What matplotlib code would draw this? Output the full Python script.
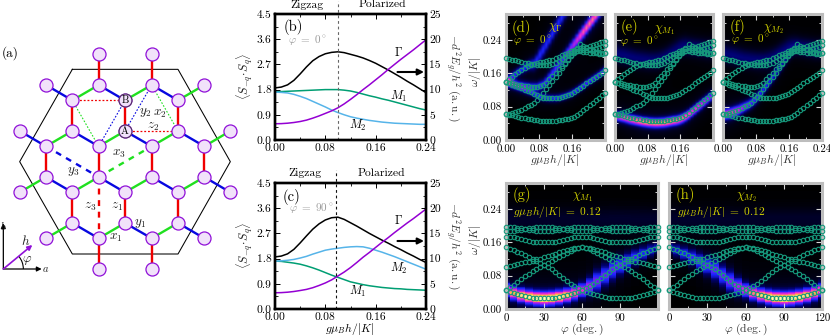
import numpy as np
import matplotlib
matplotlib.use("Agg")
import matplotlib.pyplot as plt
from matplotlib.colors import LinearSegmentedColormap
from matplotlib.patches import Arc

plt.rcParams.update({"font.family": "cmr10", "mathtext.fontset": "cm",
                     "axes.unicode_minus": False, "axes.formatter.use_mathtext": True})
W, H = 830, 336
FS = 8.3
FSH = 7.8

# ---------------- panel (a): lattice, in zoomed reference coordinates -------------
sites = {73: [296, 455], 165: [138, 296, 455, 613], 211: [217, 375, 534],
         303: [59, 217, 375, 534, 691], 349: [138, 296, 455, 613],
         441: [138, 296, 455, 613], 487: [59, 217, 375, 534, 691],
         579: [217, 375, 534], 625: [138, 296, 455, 613], 717: [296, 455]}
z_bonds = [(296,73,296,165),(455,73,455,165),(217,211,217,303),(375,211,375,303),(534,211,534,303),
           (138,349,138,441),(296,349,296,441),(455,349,455,441),(613,349,613,441),
           (217,487,217,579),(375,487,375,579),(534,487,534,579),(296,625,296,717),(455,625,455,717)]
x_bonds = [(217,211,296,165),(375,211,455,165),(534,211,613,165),(138,349,217,303),(296,349,375,303),
           (455,349,534,303),(613,349,691,303),(59,487,138,441),(217,487,296,441),(375,487,455,441),
           (534,487,613,441),(138,625,217,579),(296,625,375,579),(455,625,534,579)]
y_bonds = [(138,165,217,211),(296,165,375,211),(455,165,534,211),(59,303,138,349),(217,303,296,349),
           (375,303,455,349),(534,303,613,349),(138,441,217,487),(296,441,375,487),(455,441,534,487),
           (613,441,691,487),(217,579,296,625),(375,579,455,625),(534,579,613,625)]
hexagon = [(217,118),(534,118),(691,395),(534,672),(217,672),(59,395),(217,118)]

# ---------------- panels (b),(c): structure factors -------------
h_b = [0,.01,.02,.03,.04,.05,.06,.07,.08,.09,.10,.11,.12,.13,.14,.15,.16,.17,.18,.19,.20,.21,.22,.23,.24]
gamma_b = [1.86,1.89,1.97,2.13,2.36,2.61,2.83,2.98,3.08,3.13,3.15,3.12,3.06,3.00,2.93,2.84,2.74,2.62,2.50,2.37,2.24,2.10,1.97,1.83,1.69]
m1_b = [1.72,1.73,1.74,1.75,1.76,1.77,1.78,1.79,1.80,1.80,1.80,1.78,1.75,1.70,1.64,1.58,1.53,1.47,1.42,1.36,1.30,1.24,1.18,1.12,1.07]
m2_b = [1.71,1.70,1.68,1.63,1.56,1.48,1.38,1.28,1.18,1.07,0.98,0.90,0.83,0.78,0.74,0.70,0.67,0.64,0.62,0.60,0.59,0.58,0.57,0.56,0.56]
purple_b = [.58,.585,.60,.625,.66,.71,.78,.86,.95,1.04,1.15,1.29,1.45,1.62,1.80,1.97,2.15,2.33,2.52,2.70,2.88,3.05,3.22,3.40,3.58]
gamma_c = [1.86,1.89,1.97,2.13,2.36,2.61,2.85,3.04,3.18,3.26,3.28,3.20,3.08,2.96,2.83,2.70,2.58,2.46,2.35,2.23,2.12,2.00,1.89,1.77,1.66]
m2_c = [1.71,1.72,1.74,1.77,1.82,1.88,1.96,2.03,2.10,2.14,2.17,2.20,2.22,2.23,2.22,2.17,2.10,2.03,1.95,1.87,1.78,1.69,1.60,1.51,1.42]
m1_c = [1.71,1.70,1.67,1.64,1.60,1.54,1.47,1.39,1.30,1.21,1.13,1.05,.97,.92,.87,.83,.80,.77,.75,.73,.72,.70,.69,.68,.67]
purple_c = [.58,.585,.60,.625,.66,.70,.76,.84,.93,1.04,1.18,1.32,1.48,1.66,1.85,2.02,2.20,2.38,2.55,2.73,2.90,3.07,3.23,3.40,3.57]
tick_b = [0, .08, .16, .24]
transition_b, transition_c = 0.10, 0.0965

# ---------------- panels (d),(e),(f): modes vs field at phi=0 -------------
field = [0.0075*i for i in range(33)]
band_a = [.0624,.061,.0595,.058,.056,.054,.0525,.051,.0495,.048,.047,.046,.0455,.045,.045,.0455,.046,.047,.0485,.05,.051,.053,.056,.06,.065,.071,.077,.083,.089,.095,.101,.107,.112]
band_b = [.0624,.0635,.065,.067,.07,.073,.077,.081,.085,.09,.096,.103,.112,.122,.132,.142,.152,.162,.172,.182,.192,.202,.211,.22,.23,.226,.222,.218,.214,.212,.21,.209,.208]
band_c = [.14,.138,.136,.134,.132,.131,.13,.129,.128,.128,.128,.13,.133,.138,.146,.154,.162,.17,.178,.186,.195,.204,.21,.214,.216,.216,.216,.216,.217,.219,.221,.224,.227]
band_d = [.14,.146,.152,.158,.164,.169,.174,.178,.181,.183,.185,.187,.188,.189,.191,.193,.196,.199,.203,.207,.21,.213,.216,.218,.22,.222,.224,.226,.228,.23,.232,.235,.237]
band_e = [.14,.136,.133,.13,.127,.124,.121,.118,.115,.111,.107,.104,.102,.101,.1,.1,.1,.101,.103,.105,.108,.111,.115,.12,.125,.13,.136,.141,.146,.151,.156,.162,.168]
band_f = [.196,.195,.193,.192,.19,.188,.186,.184,.183,.182,.181,.18,.18,.18,.181,.183,.186,.19,.195,.2,.205,.21,.213,.214,.213,.212,.211,.21,.209,.208,.207,.207,.208]
ridge_d1 = [.14,.138,.136,.134,.132,.131,.13,.129,.128,.128,.128,.13,.133,.14,.15,.16,.17,.18,.19,.2,.21,.22,.23,.24,.25,.26,.27,.28,.29,.30,.31,.32,.33]
ridge_d2 = [.14,.146,.152,.158,.164,.169,.174,.178,.181,.183,.192,.205,.217,.23,.243,.256,.269,.282,.295,.308,.32,.33,.34,.35,.36,.37,.38,.39,.40,.41,.42,.43,.44]
s_d1 = [.007,.007,.007,.007,.007,.007,.007,.007,.007,.007,.007,.008,.008,.009,.009,.009,.010,.010,.010,.010,.010,.010,.010,.010,.010,.010,.010,.010,.010,.010,.010,.010,.010]
s_d2 = [.007,.007,.007,.007,.007,.007,.008,.008,.009,.010,.011,.012,.012,.012,.012,.012,.012,.012,.012,.012,.012,.012,.012,.012,.012,.012,.012,.012,.012,.012,.012,.012,.012]
w_d1 = [.34,.34,.34,.34,.34,.34,.34,.34,.34,.34,.34,.36,.38,.38,.38,.38,.40,.40,.42,.44,.46,.52,.58,.64,.70,.74,.76,.78,.78,.78,.78,.78,.78]
w_d2 = [.34]*33
w_d3 = [.34,.34,.34,.34,.34,.34,.34,.34,.34,.34,.34,.34,.34,.34,.34,.34,.34,.34,.34,.34,.34,.36,.36,.36,.36,.38,.38,.38,.40,.40,.40,.40,.40]
w_e1 = [.62,.66,.70,.74,.76,.78,.80,.82,.83,.84,.85,.86,.86,.86,.86,.86,.86,.85,.84,.83,.82,.80,.78,.76,.74,.72,.70,.68,.64,.60,.56,.52,.48]
w_f1 = [.72,.73,.74,.72,.68,.62,.56,.50,.46,.42,.40,.38,.36,.35,.34,.33,.32,.30,.28,.25,.20,.15,.10,.06,.04,.02,.02,.02,.02,.02,.02,.02,.02]
w_faint = [.17]*33

# ---------------- panels (g),(h): modes vs angle at g mu_B h/|K| = 0.12 -------------
angle = [3*i for i in range(41)]
curve_1 = [.0456,.042,.0385,.0355,.033,.031,.029,.0275,.0265,.026,.0256,.026,.0265,.0275,.029,.031,.033,.0355,.0385,.042,.0456,
           .050,.055,.061,.067,.074,.081,.088,.095,.100,.105,.110,.115,.120,.125,.129,.134,.138,.142,.145,.148]
curve_2 = curve_1[::-1]
curve_3 = [.0456,.052,.058,.065,.072,.079,.085,.091,.097,.101,.105,.110,.115,.12,.125,.130,.135,.139,.143,.146,.148,
           .146,.143,.139,.135,.130,.125,.12,.115,.110,.105,.101,.097,.091,.085,.079,.072,.065,.058,.052,.0456]
curve_4 = [.102,.104,.106,.108,.110,.112,.114,.116,.119,.121,.124,.127,.13,.133,.136,.139,.142,.144,.146,.147,.148,
           .147,.146,.144,.142,.139,.136,.133,.130,.127,.124,.121,.119,.116,.114,.112,.110,.108,.106,.104,.102]
curve_5 = [.174,.1735,.172,.170,.1675,.165,.163,.1615,.1605,.160,.160,.160,.1605,.1615,.163,.165,.1675,.170,.172,.1735,.174,
           .1735,.172,.170,.1675,.165,.163,.1615,.1605,.160,.160,.160,.1605,.1615,.163,.165,.1675,.170,.172,.1735,.174]
curve_6 = [.197,.1965,.196,.195,.1935,.192,.190,.189,.188,.1875,.187,.1875,.188,.189,.190,.192,.1935,.195,.196,.1965,.197,
           .1965,.196,.195,.1935,.192,.190,.189,.188,.1875,.187,.1875,.188,.189,.190,.192,.1935,.195,.196,.1965,.197]
curve_7 = [.187,.1875,.188,.189,.190,.192,.1935,.195,.196,.1965,.197,.1965,.196,.195,.1935,.192,.190,.189,.188,.1875,.187,
           .1875,.188,.189,.190,.192,.1935,.195,.196,.1965,.197,.1965,.196,.195,.1935,.192,.190,.189,.188,.1875,.187]
w_g = [.76,.86,.94,1.0,1.05,1.07,1.05,1.0,.92,.80,.66,.56,.48,.44,.44,.44,.42,.38,.34,.30,.26]
s_g = [.0105,.0105,.0105,.0105,.0105,.0105,.0105,.0105,.0105,.0105,.011,.013,.016,.016,.016,.014,.013,.012,.011,.010,.009]

# ---------------- helpers -------------
def T(x, y, s, size=FS, color="k", rot=0, **kw):
    fig.text(x/W, 1-y/H, s, fontsize=size, color=color, rotation=rot,
             ha="center", va="center", rotation_mode="anchor", **kw)

def pax(l, t, r, b, **kw):
    return fig.add_axes([l/W, 1-b/H, (r-l)/W, (b-t)/H], **kw)

fig = plt.figure(figsize=(W/100, H/100), dpi=100)

# ---- (a)
a = fig.add_axes([0, 0, 1, 1])
a.set_xlim(0, W); a.set_ylim(H, 0); a.axis("off")
zx = lambda v: v/3
zy = lambda v: v/3+30
def seg(b, **kw):
    a.plot([zx(b[0]), zx(b[2])], [zy(b[1]), zy(b[3])], **kw)
a.plot([zx(p[0]) for p in hexagon], [zy(p[1]) for p in hexagon], color="k", lw=0.75, zorder=1)
for bl, c in ((z_bonds, "#f00000"), (x_bonds, "#20e020"), (y_bonds, "#0808e0")):
    for b in bl:
        seg(b, color=c, lw=1.7, zorder=2, solid_capstyle="butt")
seg((296,441,296,625), color="#f00000", lw=1.7, ls=(0,(2.5,2.4)), zorder=2)
seg((138,349,296,441), color="#0808e0", lw=1.7, ls=(0,(2.5,2.4)), zorder=2)
seg((296,441,455,349), color="#20e020", lw=1.7, ls=(0,(2.5,2.4)), zorder=2)
for b in ((217,211,375,211),(375,303,534,303)):
    seg(b, color="#f00000", lw=0.9, ls=(0,(1.5,1.5)), zorder=2)
for b in ((217,211,296,349),(455,165,534,303)):
    seg(b, color="#20e020", lw=0.8, ls=(0,(1.5,1.5)), zorder=2)
for b in ((296,349,375,211),(375,303,455,165)):
    seg(b, color="#0808e0", lw=0.8, ls=(0,(1.5,1.5)), zorder=2)
for yy, xs in sites.items():
    a.plot([zx(v) for v in xs], [zy(yy)]*len(xs), "o", ms=9.4, mfc="#f1e2fa", mec="#9010d8", mew=0.9, zorder=3)
for lab, (xx, yy) in {"A": (375,303), "B": (375,211)}.items():
    a.text(zx(xx), zy(yy), lab, fontsize=7.5, ha="center", va="center", zorder=4)
    a.plot([zx(xx)], [zy(yy)], "o", ms=9.4, mfc="none", mec="#444444", mew=0.6, zorder=4)
arrow = dict(arrowstyle="-|>", mutation_scale=7, shrinkA=0, shrinkB=0)
a.annotate("", xy=(zx(125), zy(717)), xytext=(zx(10), zy(717)), arrowprops=dict(color="k", lw=0.9, **arrow))
a.annotate("", xy=(zx(10), zy(580)), xytext=(zx(10), zy(717)), arrowprops=dict(color="k", lw=0.9, **arrow))
a.annotate("", xy=(zx(97), zy(645)), xytext=(zx(10), zy(717)), arrowprops=dict(color="#9010d8", lw=1.2, **arrow))
a.add_patch(Arc((zx(10), zy(717)), 40, 40, angle=0, theta1=-40, theta2=0, color="k", lw=0.8))
T(10, 53, "(a)", 9.5)
for s, xx, yy in [(r"$y_2$",435,247),(r"$x_2$",478,253),(r"$z_2$",458,290),(r"$x_3$",358,373),(r"$y_3$",220,425),
                  (r"$z_3$",270,530),(r"$z_1$",352,530),(r"$y_1$",422,582),(r"$x_1$",348,625),
                  (r"$b$",10,587),(r"$a$",138,717),(r"$h$",78,633),(r"$\varphi$",82,692)]:
    T(zx(xx), zy(yy), s, 9.5 if s not in (r"$a$", r"$b$") else 7.5, color="#222222")

# ---- (b),(c)
def sf_panel(t, b, gam, green, blue, purple, trans, dcol):
    ax = pax(275, t, 426, b)
    ax.plot(h_b, gam, color="k", lw=1.1)
    ax.plot(h_b, green, color="#009e73", lw=1.1)
    ax.plot(h_b, blue, color="#56b4e9", lw=1.1)
    ax.plot(h_b, purple, color="#9400d3", lw=1.1)
    ax.plot([trans, trans], [0, 4.95], color=dcol, lw=0.8, ls=(0, (2.5, 2.5)), clip_on=False)
    ax.set_xlim(0, .24); ax.set_ylim(0, 4.5)
    ax.set_xticks(tick_b); ax.set_xticklabels(["0.00", "0.08", "0.16", "0.24"], fontsize=FS)
    ax.set_xticks([.04, .12, .20], minor=True)
    ax.set_yticks([0, .9, 1.8, 2.7, 3.6, 4.5]); ax.set_yticklabels(["0.0", "0.9", "1.8", "2.7", "3.6", "4.5"], fontsize=FS)
    ax.set_yticks(np.arange(.45, 4.5, .9), minor=True)
    ax.tick_params(which="major", direction="in", length=3.5, width=0.7, top=True, pad=2.5)
    ax.tick_params(which="minor", direction="in", length=2, width=0.6, top=True)
    ax2 = ax.twinx(); ax2.set_ylim(0, 25)
    ax2.set_yticks([0, 5, 10, 15, 20, 25]); ax2.set_yticklabels(["0", "5", "10", "15", "20", "25"], fontsize=FS)
    ax2.set_yticks(np.arange(2.5, 25, 5), minor=True)
    ax2.tick_params(which="major", direction="in", length=3.5, width=0.7, pad=2.5)
    ax2.tick_params(which="minor", direction="in", length=2, width=0.6)
    for A in (ax, ax2):
        for sp in A.spines.values():
            sp.set_linewidth(1.7)
    return ax

axb = sf_panel(14, 140, gamma_b, m1_b, m2_b, purple_b, transition_b, "#666666")
axc = sf_panel(183, 309, gamma_c, m1_c, m2_c, purple_c, transition_c, "#111111")

for y0 in (72, 241):
    a2 = fig.add_axes([0, 0, 1, 1], facecolor="none"); a2.axis("off")
    a2.set_xlim(0, W); a2.set_ylim(H, 0)
    a2.annotate("", xy=(424, y0), xytext=(397.5, y0),
                arrowprops=dict(arrowstyle="-|>", mutation_scale=9, color="k", lw=1.5, shrinkA=0, shrinkB=0))

lab_l = r"$\langle S_{-q}\!\cdot\! S_q\rangle$"
lab_r = r"$-d^2E_g/h^2\ (\mathrm{a.u.})$"
for yc, yr in ((76, 78), (245, 246)):
    T(245, yc, lab_l, 8.8, rot=90, color="#222222")
    T(453, yr, lab_r, 8.2, rot=270, color="#333333")
T(307, 4.5, "Zigzag", 8.4); T(382, 4.5, "Polarized", 8.4)
T(305, 173, "Zigzag", 8.4); T(381, 173, "Polarized", 8.4)
T(293, 27, "(b)", 10.5); T(308, 40, r"$\varphi\ =\ 0^\circ$", 8, color="#999999")
T(292, 197, "(c)", 10.5); T(311, 208, r"$\varphi\ =\ 90^\circ$", 8, color="#999999")
T(399, 52, r"$\Gamma$", 8.8); T(399, 96, r"$M_1$", 8.8); T(358, 125, r"$M_2$", 8.8)
T(399, 220, r"$\Gamma$", 8.8); T(399, 268, r"$M_2$", 8.8); T(358, 291, r"$M_1$", 8.8)
T(350, 329, r"$g\mu_B h/|K|$", 8.4)

# ---- heat maps
cmap = LinearSegmentedColormap.from_list("spec", [(0, "#000000"), (.16, "#00006e"), (.34, "#1c24ff"),
        (.54, "#9a20f0"), (.70, "#ff30c8"), (.86, "#ffb848"), (1, "#ffffa8")])
om = np.linspace(0, .30, 151)
def spectrum(ridges):
    img = np.zeros((om.size, len(ridges[0][0])))
    for rid, wt, sg in ridges:
        for j, (o0, w0) in enumerate(zip(rid, wt)):
            s0 = sg[j] if isinstance(sg, list) else sg
            img[:, j] += w0*(.85*np.exp(-(om-o0)**2/(2*s0**2)) + .15/(1+((om-o0)/(2.2*s0))**2))
    return np.clip(img, 0, 1)

def heat_panel(l, t, r, b, img, xl, xticks, xtl, xminor, lines, xs, step, interp, ylabels):
    ax = pax(l, t, r, b)
    ax.imshow(img, origin="lower", aspect="auto", cmap=cmap, vmin=0, vmax=1, interpolation=interp,
              extent=[xl[0]-step/2, xl[1]+step/2, om[0], om[-1]])
    for ln in lines:
        ax.plot(xs, ln, "o", ms=3.2, mfc="none", mec="#16997c", mew=0.8, clip_on=False, zorder=5)
    ax.set_xlim(*xl); ax.set_ylim(0, .3026)
    ax.set_xticks(xticks); ax.set_xticklabels(xtl, fontsize=FSH)
    ax.set_xticks(xminor, minor=True)
    ax.set_yticks([0, .08, .16, .24]); ax.set_yticks([.04, .12, .20, .28], minor=True)
    ax.set_yticklabels(["0.00", "0.08", "0.16", "0.24"] if ylabels else [], fontsize=FSH)
    col = "#d8d8d8"
    ax.tick_params(which="major", direction="in", length=4.5, width=0.8, color=col, top=True, right=True, pad=3)
    ax.tick_params(which="minor", direction="in", length=2.5, width=0.7, color=col, top=True, right=True)
    for sp in ax.spines.values():
        sp.set_linewidth(2.2); sp.set_color("#bdbdbd")
    return ax

bands = [band_a, band_b, band_c, band_d, band_e, band_f]
xl_f = (0, .24); st_f = .0075
ftick = [0, .08, .16, .24]; fmin = [.04, .12, .20]
img_d = spectrum([(ridge_d1, w_d1, s_d1), (ridge_d2, w_d2, s_d2), (band_e, w_d3, .006)])
img_e = spectrum([([v-.005 for v in band_a], w_e1, .0075), ([v+.012 for v in band_f], w_faint, .014)])
img_f = spectrum([([v-.002 for v in band_b], w_f1, .0085), ([v+.012 for v in band_f], w_faint, .014)])
heat_panel(506, 14, 605, 140, img_d, xl_f, ftick, ["0.00", "0.08", "0.16", ""], fmin, bands, field, st_f, "bilinear", True)
heat_panel(615, 14, 713, 140, img_e, xl_f, ftick, ["0.00", "0.08", "0.16", ""], fmin, bands, field, st_f, "bilinear", False)
heat_panel(723, 14, 822, 140, img_f, xl_f, ftick, ["0.00", "0.08", "0.16", "0.24"], fmin, bands, field, st_f, "bilinear", False)

curves = [curve_1, curve_2, curve_3, curve_4, curve_5, curve_6, curve_7]
c1_cols = [v-.001 for v in curve_1[::2]]
top_glow = [.215]*21
img_g = spectrum([(c1_cols, w_g, s_g), (top_glow, [.06]*21, .02)])
img_h = img_g[:, ::-1]
atick = [0, 30, 60, 90, 120]; amin = [15, 45, 75, 105]
heat_panel(506, 183, 658, 309, img_g, (0, 120), atick, ["0", "30", "60", "90", ""], amin, curves, angle, 6, "nearest", True)
heat_panel(669, 183, 822, 309, img_h, (0, 120), atick, ["0", "30", "60", "90", "120"], amin, curves, angle, 6, "nearest", False)

yel = "#d0d000"
for s, x, y, z in [("(d)",521,28,10.5),(r"$\chi_\Gamma$",555,28,9),(r"$\varphi\ =\ 0^\circ$",533,40,8),
                   ("(e)",629,27,10.5),(r"$\chi_{M_1}$",664,30,9),(r"$\varphi\ =\ 0^\circ$",640,41,8),
                   ("(f)",737,27,10.5),(r"$\chi_{M_2}$",773,29,9),(r"$\varphi\ =\ 0^\circ$",751,39,8),
                   ("(g)",522,195,10.5),(r"$\chi_{M_1}$",582,197,9),(r"$g\mu_Bh/|K|\ =\ 0.12$",557,212,8.2),
                   ("(h)",685,195,10.5),(r"$\chi_{M_2}$",746,197,9),(r"$g\mu_Bh/|K|\ =\ 0.12$",721,212,8.2)]:
    T(x, y, s, z, color=yel, zorder=20)
for x in (555, 664, 772):
    T(x, 160, r"$g\mu_B h/|K|$", 8.4, color="#333333")
T(582, 329, r"$\varphi\ (\mathrm{deg.})$", 8.4, color="#333333")
T(746, 329, r"$\varphi\ (\mathrm{deg.})$", 8.4, color="#333333")
T(475, 72, r"$\omega/|K|$", 8.4, rot=90, color="#333333")
T(475, 240, r"$\omega/|K|$", 8.4, rot=90, color="#333333")

fig.savefig("out.png", dpi=100)
